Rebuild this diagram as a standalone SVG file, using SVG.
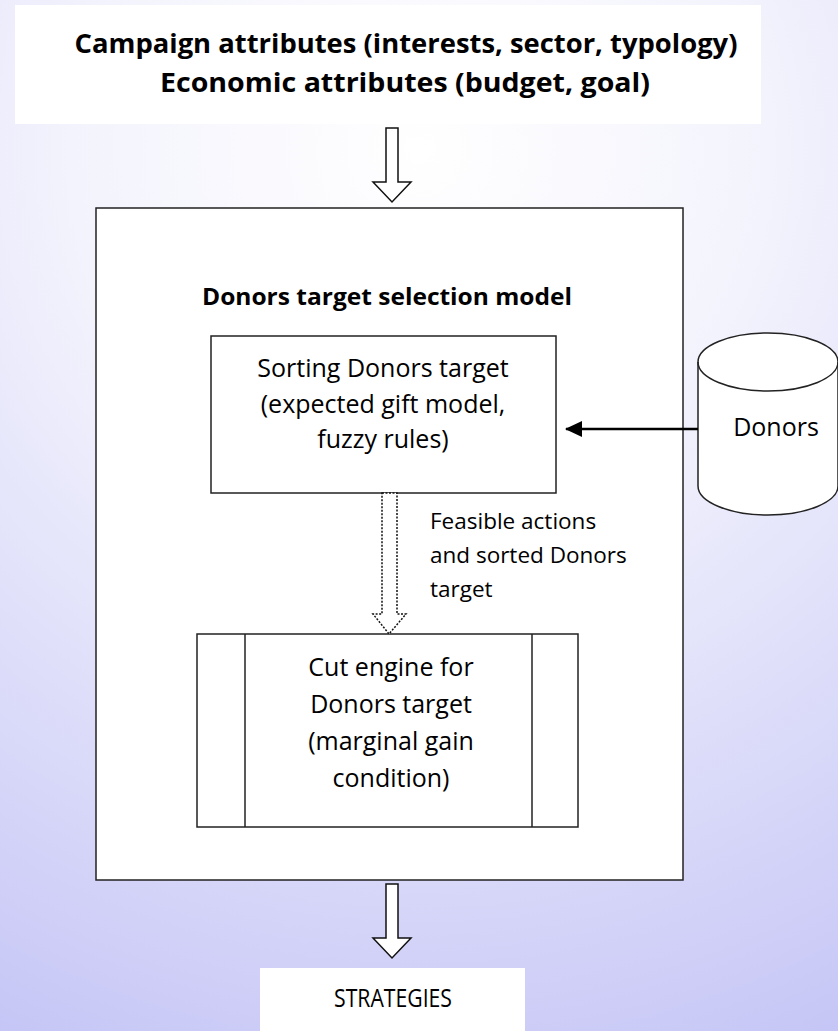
<svg xmlns="http://www.w3.org/2000/svg" width="838" height="1031" viewBox="0 0 838 1031">
<defs>
<radialGradient id="bg" gradientUnits="userSpaceOnUse" cx="420" cy="150" r="1000">
<stop offset="0" stop-color="#ffffff"/>
<stop offset="0.35" stop-color="#f3f3fd"/>
<stop offset="1" stop-color="#c4c4f6"/>
</radialGradient>
<marker id="ah" markerUnits="userSpaceOnUse" markerWidth="17" markerHeight="16" refX="16" refY="8" orient="auto">
<path d="M0,0 L17,8 L0,16 Z" fill="#000"/>
</marker>
</defs>
<style>
.box{fill:#fff;stroke:#222;stroke-width:1.5}
.t{font-family:"Open Sans","Liberation Sans",sans-serif;font-size:25px;fill:#000;text-anchor:middle}
.ts{font-family:"Open Sans","Liberation Sans",sans-serif;font-size:22.5px;fill:#000;text-anchor:start}
.tb{font-family:"Open Sans","Liberation Sans",sans-serif;font-weight:bold;fill:#000;text-anchor:middle}
.blk{fill:#fff;stroke:#111;stroke-width:1.5}
.dot{fill:#fff;stroke:#111;stroke-width:1.5;stroke-dasharray:2 1.5}
</style>
<rect x="0" y="0" width="838" height="1031" fill="url(#bg)"/>

<g id="inputs">
<rect x="15" y="5" width="746" height="119" fill="#fff"/>
<text class="tb" x="406" y="53" font-size="27.5" textLength="663" lengthAdjust="spacingAndGlyphs">Campaign attributes (interests, sector, typology)</text>
<text class="tb" x="405" y="92" font-size="27.5" textLength="490" lengthAdjust="spacingAndGlyphs">Economic attributes (budget, goal)</text>
</g>

<g id="model">
<rect class="box" x="96" y="208" width="587" height="672"/>
<text class="tb" x="387" y="305" font-size="24" textLength="370" lengthAdjust="spacingAndGlyphs">Donors target selection model</text>
</g>

<g id="sorting">
<rect class="box" x="211" y="336" width="345" height="157"/>
<text class="t" x="383" y="377">Sorting Donors target</text>
<text class="t" x="383" y="413">(expected gift model,</text>
<text class="t" x="383" y="448">fuzzy rules)</text>
</g>

<g id="donors">
<path class="box" d="M698,362 L698,486 A70,29 0 0 0 838,486 L838,362 A70,29 0 0 0 698,362 Z"/>
<path d="M698,362 A70,29 0 0 0 838,362" fill="none" stroke="#222" stroke-width="1.5"/>
<text class="t" x="776" y="436" font-size="22">Donors</text>
</g>

<g id="cut">
<rect class="box" x="197" y="634" width="381" height="193"/>
<line x1="245" y1="634" x2="245" y2="827" stroke="#222" stroke-width="1.5"/>
<line x1="532" y1="634" x2="532" y2="827" stroke="#222" stroke-width="1.5"/>
<text class="t" x="391" y="676">Cut engine for</text>
<text class="t" x="391" y="713">Donors target</text>
<text class="t" x="391" y="750">(marginal gain</text>
<text class="t" x="391" y="787">condition)</text>
</g>

<g id="strategies">
<rect x="260" y="968" width="265" height="63" fill="#fff"/>
<text class="t" x="393" y="1007" font-size="21" textLength="118" lengthAdjust="spacingAndGlyphs">STRATEGIES</text>
</g>

<g id="connectors">
<path class="blk" d="M386,128 L398,128 L398,182 L411,182 L392,202 L373,182 L386,182 Z"/>
<path class="blk" d="M386,884 L398,884 L398,938 L411,938 L392,958 L373,938 L386,938 Z"/>
<path class="dot" d="M382,493 L397,493 L397,614 L406,614 L389,634 L373,614 L382,614 Z"/>
<line x1="698" y1="429" x2="566" y2="429" stroke="#000" stroke-width="2.5" marker-end="url(#ah)"/>
<text class="ts" x="430" y="529">Feasible actions</text>
<text class="ts" x="430" y="563">and sorted Donors</text>
<text class="ts" x="430" y="597">target</text>
</g>
</svg>
